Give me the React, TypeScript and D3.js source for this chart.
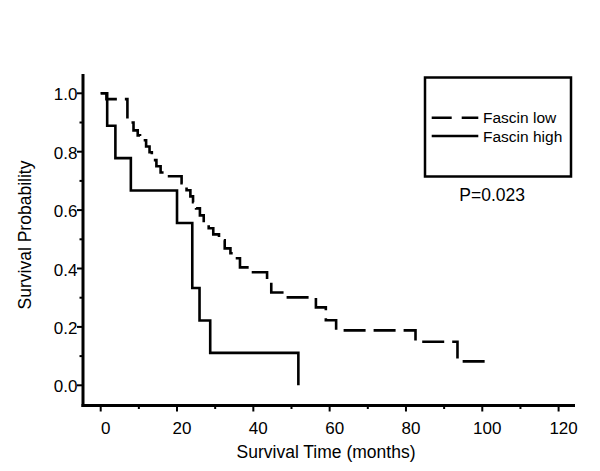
import React from "react";
import * as d3 from "d3";

// Kaplan-Meier data (months, survival probability after each step)
const lowTimes = [0, 1.5, 7.0, 8.6, 9.7, 10.3, 11.9, 12.8, 13.4, 14.6, 15.7, 16.7, 21.2, 22.5, 23.5, 24.2, 25.0, 26.0, 27.0, 28.3, 29.5, 31.0, 32.5, 34.0, 34.6, 36.5, 39.2, 43.6, 44.7, 48.5, 56.4, 59.0, 61.7, 82.5, 93.5, 101.0];
const lowSurv = [1.0, 0.98, 0.9, 0.873, 0.856, 0.839, 0.818, 0.798, 0.771, 0.75, 0.729, 0.716, 0.692, 0.668, 0.647, 0.627, 0.606, 0.582, 0.558, 0.538, 0.517, 0.497, 0.469, 0.452, 0.435, 0.404, 0.387, 0.353, 0.318, 0.301, 0.267, 0.223, 0.188, 0.149, 0.082, 0.082];

const highTimes = [0, 1.7, 3.85, 7.9, 20.0, 24.0, 25.9, 28.7, 51.8];
const highSurv = [1.0, 0.889, 0.778, 0.667, 0.556, 0.333, 0.222, 0.111, 0.0];

const xMajorTicks = [0, 20, 40, 60, 80, 100, 120];
const xMinorTicks = [10, 30, 50, 70, 90, 110];
const yMajorTicks = [0, 0.2, 0.4, 0.6, 0.8, 1.0];
const yMinorTicks = [0.1, 0.3, 0.5, 0.7, 0.9];

const seriesNames = ["Fascin low", "Fascin high"];
const pValueLabel = "P=0.023";
const xTitle = "Survival Time (months)";
const yTitle = "Survival Probability";

const FONT = "'Liberation Sans', Arial, Helvetica, sans-serif";

export default function App() {
  const x = d3.scaleLinear().domain([0, 120]).range([100.7, 558.6]);
  const y = d3.scaleLinear().domain([0, 1]).range([385.3, 93.3]);

  const line = d3
    .line<[number, number]>()
    .x((d) => x(d[0]))
    .y((d) => y(d[1]))
    .curve(d3.curveStepAfter);

  const lowPts: [number, number][] = lowTimes.map((t, i) => [t, lowSurv[i]]);
  const highPts: [number, number][] = highTimes.map((t, i) => [t, highSurv[i]]);

  const axisY = 405.5;
  const axisX = 83;

  return (
    <div>
      <style>{`body{margin:0;}`}</style>
      <svg width={600} height={471} style={{ display: "block", background: "#fff" }}>
        <rect x={0} y={0} width={600} height={471} fill="#fff" />
        {/* curves */}
        <path d={line(highPts) || ""} fill="none" stroke="#000" strokeWidth={2.6} />
        <path
          d={line(lowPts) || ""}
          fill="none"
          stroke="#000"
          strokeWidth={2.6}
          strokeDasharray="22 8"
        />
        {/* axes */}
        <line x1={axisX} x2={axisX} y1={74} y2={axisY + 1.5} stroke="#000" strokeWidth={3} />
        <line x1={axisX - 1.5} x2={575} y1={axisY} y2={axisY} stroke="#000" strokeWidth={3} />
        {xMajorTicks.map((v) => (
          <g key={"xM" + v}>
            <line x1={x(v)} x2={x(v)} y1={axisY} y2={axisY + 6} stroke="#000" strokeWidth={2} />
            <text
              x={x(v) + 5}
              y={433.5}
              textAnchor="middle"
              fontFamily={FONT}
              fontSize={17}
              fill="#000"
            >
              {v}
            </text>
          </g>
        ))}
        {xMinorTicks.map((v) => (
          <line key={"xm" + v} x1={x(v)} x2={x(v)} y1={axisY} y2={axisY + 3.5} stroke="#000" strokeWidth={2} />
        ))}
        {yMajorTicks.map((v) => (
          <g key={"yM" + v}>
            <line x1={axisX - 6} x2={axisX} y1={y(v)} y2={y(v)} stroke="#000" strokeWidth={2} />
            <text
              x={77.5}
              y={y(v) + 7}
              textAnchor="end"
              fontFamily={FONT}
              fontSize={17}
              fill="#000"
            >
              {v.toFixed(1)}
            </text>
          </g>
        ))}
        {yMinorTicks.map((v) => (
          <line key={"ym" + v} x1={axisX - 3.5} x2={axisX} y1={y(v)} y2={y(v)} stroke="#000" strokeWidth={2} />
        ))}
        {/* axis titles */}
        <text x={326} y={458} textAnchor="middle" fontFamily={FONT} fontSize={17.5} fill="#000">
          {xTitle}
        </text>
        <text
          transform="translate(31,235) rotate(-90)"
          textAnchor="middle"
          fontFamily={FONT}
          fontSize={17.5}
          fill="#000"
        >
          {yTitle}
        </text>
        {/* legend */}
        <rect x={425} y={77.5} width={146} height={99} fill="none" stroke="#000" strokeWidth={2.5} />
        <line x1={431.7} x2={478.3} y1={117.7} y2={117.7} stroke="#000" strokeWidth={2.6} strokeDasharray="20 10" />
        <line x1={431.7} x2={478.3} y1={136} y2={136} stroke="#000" strokeWidth={2.6} />
        <text x={483} y={123} fontFamily={FONT} fontSize={15.5} fill="#000">
          {seriesNames[0]}
        </text>
        <text x={483} y={141.5} fontFamily={FONT} fontSize={15.5} fill="#000">
          {seriesNames[1]}
        </text>
        <text x={459.3} y={200.7} fontFamily={FONT} fontSize={17.5} fill="#000">
          {pValueLabel}
        </text>
      </svg>
    </div>
  );
}
